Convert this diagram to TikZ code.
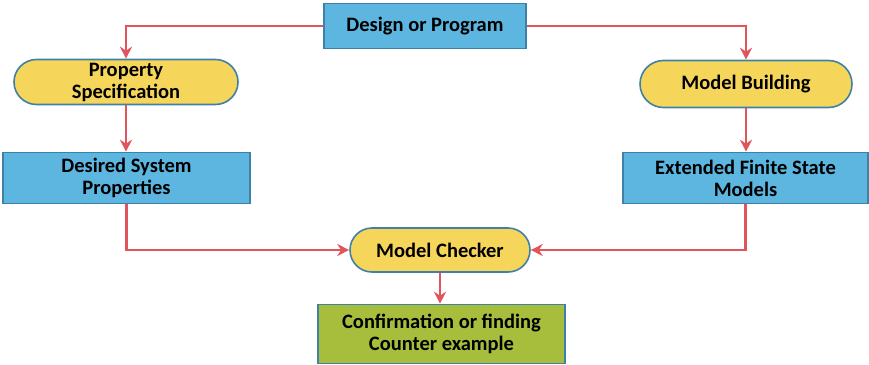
\documentclass[tikz,border=0pt]{standalone}
\usepackage{fontspec}
\setmainfont{Carlito}
\usetikzlibrary{calc, positioning, arrows.meta, shapes.misc}
\definecolor{boxblue}{RGB}{92,182,224}
\definecolor{edgeblue}{RGB}{62,128,168}
\definecolor{pillyellow}{RGB}{246,214,90}
\definecolor{boxgreen}{RGB}{166,190,60}
\definecolor{arrred}{RGB}{226,84,92}
\tikzstyle{blk}=[draw=edgeblue, line width=1.6pt, fill=boxblue, shape=rectangle, align=center, font=\fontsize{20.5}{22}\selectfont\bfseries, inner sep=2pt]
\tikzstyle{pill}=[draw=edgeblue, line width=1.6pt, fill=pillyellow, shape=rounded rectangle, align=center, font=\fontsize{20.5}{22}\selectfont\bfseries, inner sep=2pt]
\tikzstyle{flow}=[draw=arrred, line width=2.4pt, -{Stealth[length=12pt, width=12pt]}]

\begin{document}
\begin{tikzpicture}[x=1pt, y=-1pt]
\useasboundingbox (0,0) rectangle (869,364);
% the top box
\node[blk, minimum width=202pt, minimum height=45pt] (DP) at (425,26) {Design or Program};
% the two yellow steps
\node[pill, minimum width=228pt, minimum height=45pt] (PS) at (126,82) {Property\\Specification};
\node[pill, minimum width=216pt, minimum height=47pt] (MB) at (746,84) {Model Building};
% the two blue results
\node[blk, minimum width=247pt, minimum height=51pt] (DS) at (126.5,178) {Desired System\\Properties};
\node[blk, minimum width=245pt, minimum height=51pt] (EF) at (745.5,178) {Extended Finite State\\Models};
% the checker and its outcome
\node[pill, minimum width=184pt, minimum height=44pt] (MC) at (440,250) {Model Checker};
\node[blk, fill=boxgreen, minimum width=247pt, minimum height=59pt] (CF) at (441.5,334) {Confirmation or finding\\Counter example};
%
% the connectors
\draw[flow] (DP.west) -| (PS.north);
\draw[flow] (DP.east) -| (MB.north);
\draw[flow] (PS.south) -- (PS.south |- DS.north);
\draw[flow] (MB.south) -- (MB.south |- EF.north);
\draw[flow] (DS.south) |- (MC.west);
\draw[flow] (EF.south) |- (MC.east);
\draw[flow] (MC.south) -- (MC.south |- CF.north);
\end{tikzpicture}
\end{document}
